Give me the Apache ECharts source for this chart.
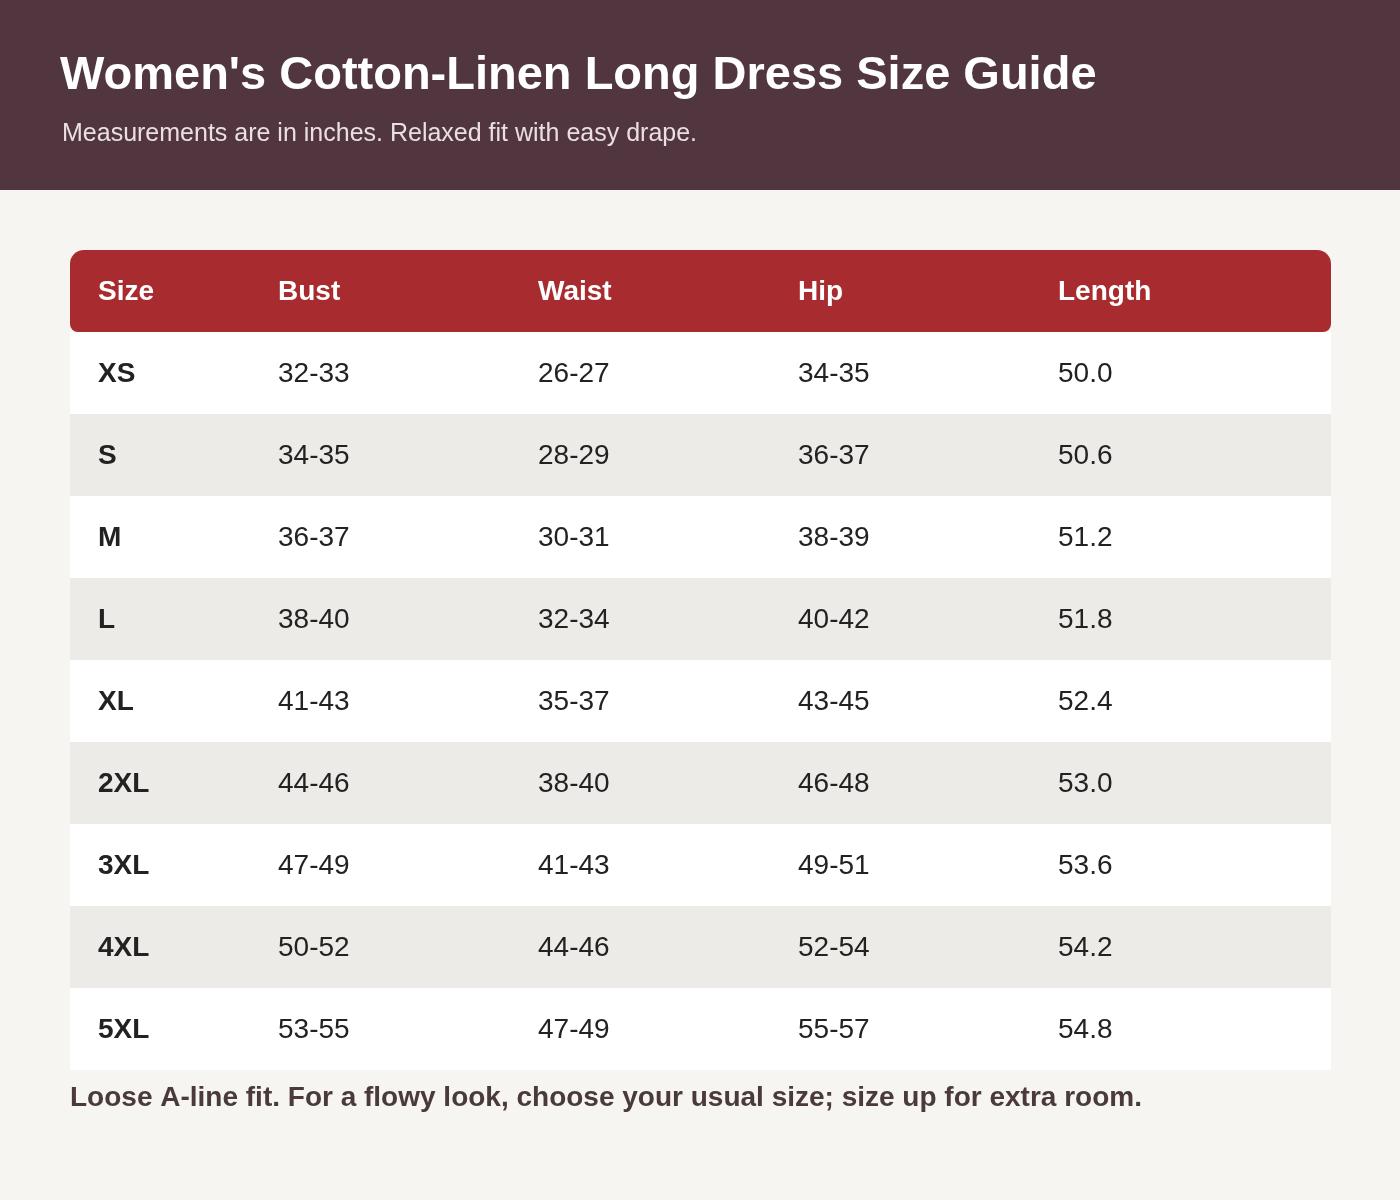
<!DOCTYPE html>
<html>
<head>
<meta charset="utf-8">
<style>
  html, body { margin: 0; padding: 0; background: #f7f5f1; }
  #chart { width: 1400px; height: 1200px; }
</style>
<script src="https://cdn.jsdelivr.net/npm/echarts@6/dist/echarts.min.js"></script>
</head>
<body>
<div id="chart"></div>
<script>
// table data
var headers = ['Size', 'Bust', 'Waist', 'Hip', 'Length'];
var sizes = ['XS', 'S', 'M', 'L', 'XL', '2XL', '3XL', '4XL', '5XL'];
var bust = ['32-33', '34-35', '36-37', '38-40', '41-43', '44-46', '47-49', '50-52', '53-55'];
var waist = ['26-27', '28-29', '30-31', '32-34', '35-37', '38-40', '41-43', '44-46', '47-49'];
var hip = ['34-35', '36-37', '38-39', '40-42', '43-45', '46-48', '49-51', '52-54', '55-57'];
var lengths = ['50.0', '50.6', '51.2', '51.8', '52.4', '53.0', '53.6', '54.2', '54.8'];

var fam = 'Liberation Sans';
var colX = [98, 278, 538, 798, 1058];
var tableX = 70, tableW = 1261, headTop = 250, rowH = 82;

function txt(x, y, s, size, bold, fill) {
  return { type: 'text', x: x, y: y, style: { text: s, fontFamily: fam, fontSize: size, fontWeight: bold ? 'bold' : 'normal', fill: fill, verticalAlign: 'middle' } };
}

var els = [];
els.push({ type: 'rect', shape: { x: 0, y: 0, width: 1400, height: 190 }, style: { fill: '#513640' } });
els.push(txt(60, 76, "Women's Cotton-Linen Long Dress Size Guide", 47, true, '#ffffff'));
els.push(txt(62, 134, 'Measurements are in inches. Relaxed fit with easy drape.', 25, false, '#eadfe2'));

// header row
els.push({ type: 'rect', shape: { x: tableX, y: headTop, width: tableW, height: rowH, r: [14, 14, 8, 8] }, style: { fill: '#a82c2f' } });
headers.forEach(function (h, i) {
  els.push(txt(colX[i], headTop + rowH / 2 + 1, h, 28, true, '#ffffff'));
});

// body rows
sizes.forEach(function (s, r) {
  var y = headTop + rowH * (r + 1);
  els.push({ type: 'rect', shape: { x: tableX, y: y, width: tableW, height: rowH }, style: { fill: r % 2 ? '#edebe7' : '#ffffff' } });
  var cells = [s, bust[r], waist[r], hip[r], lengths[r]];
  cells.forEach(function (c, i) {
    els.push(txt(colX[i], y + rowH / 2 + 1, c, 28, i === 0, '#222222'));
  });
});

els.push(txt(70, 1098, 'Loose A-line fit. For a flowy look, choose your usual size; size up for extra room.', 28, true, '#4a3a3c'));

var chart = echarts.init(document.getElementById('chart'));
chart.setOption({ backgroundColor: '#f7f5f1', graphic: els });
</script>
</body>
</html>
